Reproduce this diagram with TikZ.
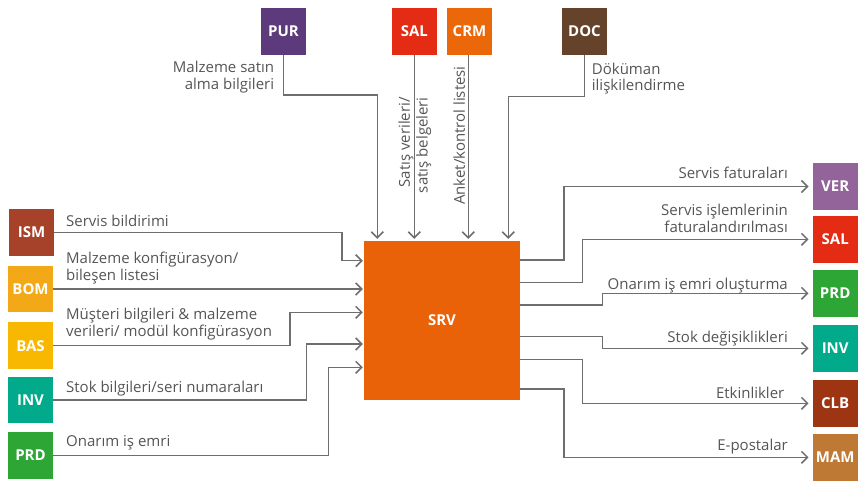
\documentclass[tikz,border=0pt]{standalone}
\usepackage{fontspec}
\setmainfont{Open Sans}
\usetikzlibrary{arrows.meta}
\definecolor{cPUR}{RGB}{92,58,123}
\definecolor{cSAL}{RGB}{228,44,20}
\definecolor{cCRM}{RGB}{234,104,10}
\definecolor{cDOC}{RGB}{100,67,42}
\definecolor{cISM}{RGB}{166,66,42}
\definecolor{cBOM}{RGB}{243,168,24}
\definecolor{cBAS}{RGB}{248,183,0}
\definecolor{cINV}{RGB}{0,170,138}
\definecolor{cPRD}{RGB}{46,166,54}
\definecolor{cVER}{RGB}{147,100,153}
\definecolor{cCLB}{RGB}{158,53,18}
\definecolor{cMAM}{RGB}{190,121,53}
\definecolor{cSRV}{RGB}{234,98,7}
\definecolor{cline}{RGB}{110,110,110}
\definecolor{ctext}{RGB}{85,85,85}
\tikzset{
  mod/.style={minimum width=45pt,minimum height=46.5pt,inner sep=0pt,text=white,font=\bfseries\fontsize{15}{17}\selectfont},
  lbl/.style={inner sep=0pt,text=ctext,font=\fontsize{15}{17}\selectfont},
  conn/.style={draw=cline,line width=1.5pt,-{Straight Barb[length=6pt,width=12pt,line width=1.5pt]}},
}
\begin{document}
\begin{tikzpicture}[x=1pt,y=-1pt]
\useasboundingbox (0,0) rectangle (865,488);
% top boxes
\node[mod,fill=cPUR] (PUR) at (283.5,31.3) {PUR};
\node[mod,fill=cSAL] (SALt) at (414.3,31.3) {SAL};
\node[mod,fill=cCRM] (CRM) at (469.5,31.3) {CRM};
\node[mod,fill=cDOC] (DOC) at (584.5,31.3) {DOC};
% left boxes
\node[mod,fill=cISM] (ISM) at (31.5,232.3) {ISM};
\node[mod,fill=cBOM] (BOM) at (30.5,289) {BOM};
\node[mod,fill=cBAS] (BAS) at (30.5,345.7) {BAS};
\node[mod,fill=cINV] (INVl) at (30.5,400) {INV};
\node[mod,fill=cPRD] (PRDl) at (30.5,455.5) {PRD};
% right boxes
\node[mod,fill=cVER] (VER) at (835.2,186.5) {VER};
\node[mod,fill=cSAL] (SALr) at (835.2,239.3) {SAL};
\node[mod,fill=cPRD] (PRDr) at (835.2,293.3) {PRD};
\node[mod,fill=cINV] (INVr) at (835.2,348.3) {INV};
\node[mod,fill=cCLB] (CLB) at (835.2,403.3) {CLB};
\node[mod,fill=cMAM] (MAM) at (835.2,457.3) {MAM};
% center
\node[mod,fill=cSRV,minimum width=156pt,minimum height=159pt] (SRV) at (442,320.5) {SRV};
% left connectors
\draw[conn,shorten >=1pt] (ISM.east) -| (342,260.7) -- (SRV.west |- 0,260.7);
\draw[conn,shorten >=1pt] (BOM.east) -- (SRV.west |- BOM.east);
\draw[conn,shorten >=1pt] (BAS.east) -| (290,312.3) -- (SRV.west |- 0,312.3);
\draw[conn,shorten >=1pt] (INVl.east) -| (306.7,344) -- (SRV.west |- 0,344);
\draw[conn,shorten >=1pt] (PRDl.east) -| (328.3,367.3) -- (SRV.west |- 0,367.3);
% top connectors
\draw[conn,shorten >=2pt] (PUR.south) |- (377.3,95) -- (377.3,0 |- SRV.north);
\draw[conn,shorten >=2pt] (SALt.south) -- (SALt.south |- SRV.north);
\draw[conn,shorten >=2pt] (468.3,0 |- CRM.south) -- (468.3,0 |- SRV.north);
\draw[conn,shorten >=2pt] (DOC.south) |- (508.3,96.7) -- (508.3,0 |- SRV.north);
% right connectors
\draw[conn,shorten >=4pt] (SRV.east |- 0,260) -| (564,0 |- VER.west) -- (VER.west);
\draw[conn,shorten >=4pt] (SRV.east |- 0,282.3) -| (582.7,0 |- SALr.west) -- (SALr.west);
\draw[conn,shorten >=4pt] (SRV.east |- 0,305) -| (602.7,0 |- PRDr.west) -- (PRDr.west);
\draw[conn,shorten >=4pt] (SRV.east |- 0,336.7) -| (602.7,0 |- INVr.west) -- (INVr.west);
\draw[conn,shorten >=4pt] (SRV.east |- 0,359.3) -| (582.7,0 |- CLB.west) -- (CLB.west);
\draw[conn,shorten >=4pt] (SRV.east |- 0,389) -| (564,0 |- MAM.west) -- (MAM.west);
% left labels
\node[lbl,anchor=base west] (t1) at (66,226.7) {Servis bildirimi};
\node[lbl,anchor=base west] (t2a) at (66,263.3) {Malzeme konfigürasyon/};
\node[lbl,anchor=base west] (t2b) at (66,280.7) {bileşen listesi};
\node[lbl,anchor=base west] (t3a) at (66,319.3) {Müşteri bilgileri \& malzeme};
\node[lbl,anchor=base west] (t3b) at (66,336.7) {verileri/ modül konfigürasyon};
\node[lbl,anchor=base west] (t4) at (66,392.7) {Stok bilgileri/seri numaraları};
\node[lbl,anchor=base west] (t5) at (66,446.7) {Onarım iş emri};
% top labels
\node[lbl,anchor=base east] (u1a) at (274.3,72) {Malzeme satın};
\node[lbl,anchor=base east] (u1b) at (274.3,89.3) {alma bilgileri};
\node[lbl,anchor=base east,rotate=90] (u2a) at (409.8,97) {Satış verileri/};
\node[lbl,anchor=base east,rotate=90] (u2b) at (427.5,97) {satış belgeleri};
\node[lbl,anchor=base east,rotate=90] (u3) at (464.8,66) {Anket/kontrol listesi};
\node[lbl,anchor=base west] (u4a) at (591.7,74) {Döküman};
\node[lbl,anchor=base west] (u4b) at (591.7,90.7) {ilişkilendirme};
% right labels
\node[lbl,anchor=base east] (r1) at (788,178.3) {Servis faturaları};
\node[lbl,anchor=base east] (r2a) at (788,215) {Servis işlemlerinin};
\node[lbl,anchor=base east] (r2b) at (788,232.7) {faturalandırılması};
\node[lbl,anchor=base east] (r3) at (788,289.3) {Onarım iş emri oluşturma};
\node[lbl,anchor=base east] (r4) at (788,342.7) {Stok değişiklikleri};
\node[lbl,anchor=base east] (r5) at (784.5,398.3) {Etkinlikler};
\node[lbl,anchor=base east] (r6) at (788,450.7) {E-postalar};
\end{tikzpicture}
\end{document}
